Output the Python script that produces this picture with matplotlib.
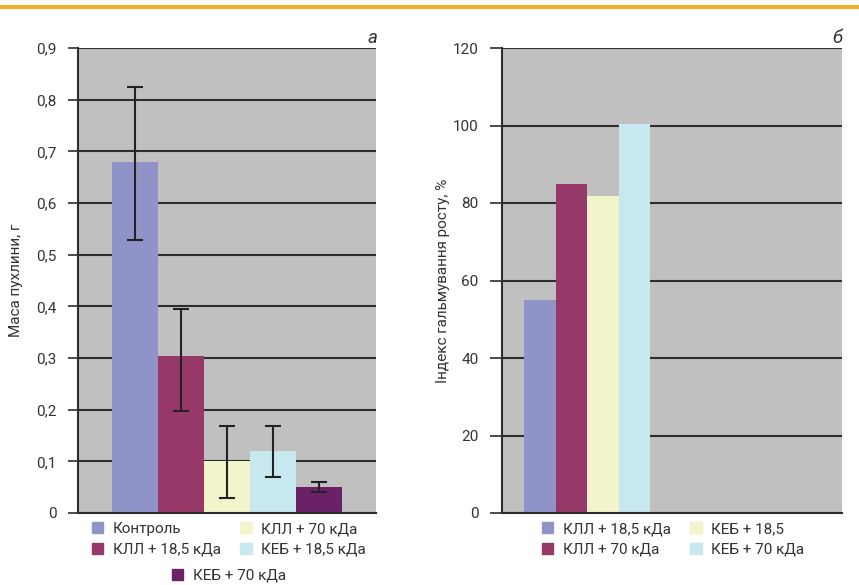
import matplotlib
matplotlib.use("Agg")
import matplotlib.pyplot as plt
from matplotlib.patches import Patch
from matplotlib.ticker import FuncFormatter
from matplotlib.lines import Line2D

plt.rcParams['font.family'] = ['Roboto', 'DejaVu Sans']

# ---- data (panel a) ----
a_labels = ["Контроль", "КЛЛ + 18,5 кДа", "КЛЛ + 70 кДа", "КЕБ + 18,5 кДа", "КЕБ + 70 кДа"]
a_values = [0.68, 0.303, 0.100, 0.120, 0.050]
a_err_hi = [0.825, 0.395, 0.169, 0.169, 0.060]
a_err_lo = [0.529, 0.198, 0.030, 0.070, 0.040]
a_colors = ["#8f93c8", "#963868", "#f2f4cc", "#c8e8ef", "#6b2166"]
a_yticks = [0, 0.1, 0.2, 0.3, 0.4, 0.5, 0.6, 0.7, 0.8, 0.9]

# ---- data (panel б) ----
b_labels = ["КЛЛ + 18,5 кДа", "КЛЛ + 70 кДа", "КЕБ + 18,5", "КЕБ + 70 кДа"]
b_values = [55.0, 85.0, 81.8, 100.4]
b_colors = ["#8f93c8", "#963868", "#f2f4cc", "#c8e8ef"]
b_yticks = [0, 20, 40, 60, 80, 100, 120]

W, H = 859, 585
fig = plt.figure(figsize=(W / 100, H / 100), dpi=100)
fig.patch.set_facecolor("white")

txt = "#333333"
grid_c = "#2e2e2e"
bg = "#c0c0c0"
fs = 11

# top orange rule
fig.add_artist(Line2D([0, 1], [1 - 7 / H, 1 - 7 / H], transform=fig.transFigure,
                      color="#ecb02a", lw=3))


def style(ax, yticks, ticklen):
    ax.set_facecolor(bg)
    for s in ["top", "right"]:
        ax.spines[s].set_visible(False)
    ax.spines["left"].set_color(grid_c)
    ax.spines["bottom"].set_color(grid_c)
    ax.spines["left"].set_linewidth(1.5)
    ax.spines["bottom"].set_linewidth(1.5)
    ax.set_yticks(yticks)
    ax.set_xticks([])
    ax.yaxis.grid(True, color=grid_c, lw=1.5)
    ax.set_axisbelow(True)
    ax.tick_params(axis="y", length=ticklen, width=1.2, color=grid_c,
                   labelsize=fs, labelcolor=txt, pad=8)


# ---- panel a ----
ax1 = fig.add_axes([78 / W, 1 - 513 / H, (376 - 78) / W, 465 / H])
bw_a = 46 / 298
for i, (v, c) in enumerate(zip(a_values, a_colors)):
    x = (i - 2) * bw_a
    ax1.bar(x, v, width=bw_a, color=c, zorder=2, label=a_labels[i])
    ax1.errorbar(x, v, yerr=[[v - a_err_lo[i]], [a_err_hi[i] - v]], fmt="none",
                 ecolor="#222222", elinewidth=1.5, capsize=5.5, capthick=1.5, zorder=3)
ax1.set_xlim(-0.5, 0.5)
ax1.set_ylim(0, 0.9)
style(ax1, a_yticks, 7.5)
ax1.yaxis.set_major_formatter(FuncFormatter(lambda v, p: ("%g" % round(v, 1)).replace(".", ",")))
ax1.set_ylabel("Маса пухлини, г", fontsize=fs, color=txt, labelpad=9)
fig.text(377 / W, 1 - 38 / H, "а", fontsize=13.5, style="italic", color=txt,
         ha="right", va="center")

# ---- panel б ----
ax2 = fig.add_axes([502 / W, 1 - 513 / H, (842 - 502) / W, 465 / H])
bw_b = 31.5 / 170
for i, (v, c) in enumerate(zip(b_values, b_colors)):
    x = (i - 1.5) * bw_b
    ax2.bar(x, v, width=bw_b, color=c, zorder=2, label=b_labels[i])
ax2.set_xlim(-0.5, 1.5)
ax2.set_ylim(0, 120)
style(ax2, b_yticks, 9)
ax2.set_ylabel("Індекс гальмування росту, %", fontsize=fs, color=txt, labelpad=2)
fig.text(842 / W, 1 - 38 / H, "б", fontsize=13.5, style="italic", color=txt,
         ha="right", va="center")

# ---- legends ----
leg_kw = dict(frameon=False, fontsize=fs, handlelength=0.75, handleheight=0.75,
              handletextpad=0.6, labelspacing=0.45, borderaxespad=0, borderpad=0)
ha = [Patch(color=c) for c in a_colors]
l1 = fig.legend([ha[0], ha[1], ha[2], ha[3]], [a_labels[0], a_labels[1], a_labels[2], a_labels[3]],
                ncol=2, columnspacing=1.3, loc="upper left",
                bbox_to_anchor=(92 / W, 1 - 522 / H), labelcolor=txt, **leg_kw)
l2 = fig.legend([ha[4]], [a_labels[4]], loc="upper left",
                bbox_to_anchor=(172 / W, 1 - 569 / H), labelcolor=txt, **leg_kw)
hb = [Patch(color=c) for c in b_colors]
l3 = fig.legend(hb, b_labels, ncol=2, columnspacing=1.3, loc="upper left",
                bbox_to_anchor=(542 / W, 1 - 522 / H), labelcolor=txt, **leg_kw)

fig.savefig("out.png", dpi=100)
